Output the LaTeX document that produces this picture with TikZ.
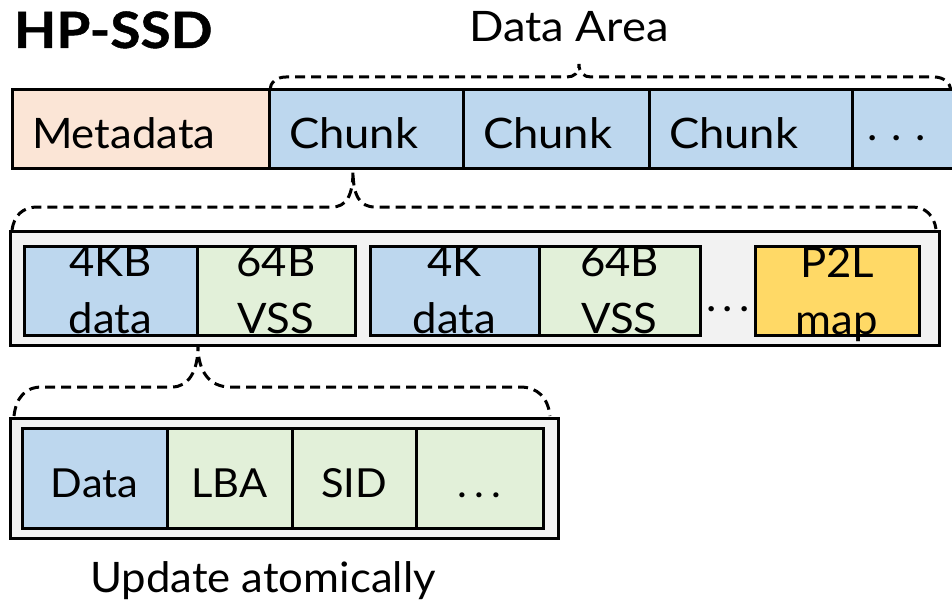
\documentclass[tikz,border=0pt]{standalone}
\usepackage{fontspec}
\setmainfont{Lato}[FakeStretch=1.04]
\definecolor{peach}{HTML}{FBE5D6}
\definecolor{lblue}{HTML}{BDD7EE}
\definecolor{lgreen}{HTML}{E2F0D9}
\definecolor{lyellow}{HTML}{FFD966}
\definecolor{lgray}{HTML}{F2F2F2}
\newcommand{\spdots}[1]{.\kern#1.\kern#1.}
\begin{document}
\begin{tikzpicture}[x=1pt,y=-1pt,
  cellbase/.style={draw=black, line width=3pt, inner sep=0pt, outer sep=0pt, anchor=north west},
  topcell/.style={cellbase, minimum height=78pt, align=left, inner xsep=20pt, text height=38pt, text depth=0pt, font=\fontsize{42}{50}\selectfont},
  panel/.style={cellbase, fill=lgray},
  midcell/.style={cellbase, minimum height=89pt, align=center, font=\fontsize{42}{57}\selectfont},
  lowcell/.style={cellbase, minimum height=100pt, text height=38pt, text depth=0pt, font=\fontsize{40}{48}\selectfont},
  brace/.style={draw=black, line width=3pt, dash pattern=on 10pt off 6pt},
  plain/.style={inner sep=0pt, outer sep=0pt}
]
\useasboundingbox (0,0) rectangle (952,607);
\clip (0,0) rectangle (952,607);
\fill[white] (0,0) rectangle (952,607);

% titles
\node[plain, anchor=base west, font=\bfseries\fontsize{50}{60}\selectfont\addfontfeature{FakeStretch=1.1,FakeBold=1}] (title) at (14,48) {HP-SSD};
\node[plain, anchor=base, font=\fontsize{42}{50}\selectfont\addfontfeature{FakeStretch=1.08}] (area) at (569,42) {Data Area};

% top row
\node[topcell, fill=peach, text width=217pt] (meta) at (12,90) {Metadata};
\node[topcell, fill=lblue, text width=154pt] (c1) at (269,90) {\addfontfeature{FakeStretch=1.08}Chunk};
\node[topcell, fill=lblue, text width=146pt] (c2) at (463,90) {\addfontfeature{FakeStretch=1.08}Chunk};
\node[topcell, fill=lblue, text width=163pt] (c3) at (649,90) {\addfontfeature{FakeStretch=1.08}Chunk};
\node[topcell, fill=lblue, text width=71pt, inner xsep=15pt, text height=22pt] (cdots) at (852,90) {\spdots{14pt}};

% middle panel
\node[panel, minimum width=929pt, minimum height=114pt] (chunkpanel) at (10,231) {};
\node[midcell, fill=lblue, minimum width=173pt] (d1) at (24,246) {4KB\\data};
\node[midcell, fill=lgreen, minimum width=158pt] (v1) at (197,246) {64B\\VSS};
\node[midcell, fill=lblue, minimum width=169pt] (d2) at (370,246) {4K\\data};
\node[midcell, fill=lgreen, minimum width=161pt] (v2) at (539,246) {64B\\VSS};
\node[plain, anchor=base, font=\fontsize{42}{50}\selectfont] (mdots) at (728,311) {\spdots{6pt}};
\node[midcell, fill=lyellow, minimum width=164pt] (p2l) at (755,246) {P2L\\ma\smash{p}};

% bottom panel
\node[panel, minimum width=548pt, minimum height=120pt] (vsspanel) at (10,418) {};
\node[lowcell, fill=lblue, minimum width=145pt] (bdata) at (22,428) {Data};
\node[lowcell, fill=lgreen, minimum width=125pt] (lba) at (167,428) {LBA};
\node[lowcell, fill=lgreen, minimum width=124pt] (sid) at (292,428) {SID};
\node[lowcell, fill=lgreen, minimum width=127pt] (bdots) at (416,428) {\spdots{7pt}};

\node[plain, anchor=base, font=\fontsize{42}{50}\selectfont] (upd) at (263,592) {Update atomically};

% braces
\draw[brace] (270,90) .. controls (270,83) and (276,77) .. (286,77) -- (567,77)
  .. controls (574,77) and (579,73) .. (579,64)
  .. controls (579,73) and (584,77) .. (591,77) -- (934,77)
  .. controls (944,77) and (950,83) .. (951,90);
\draw[brace] (12,230) .. controls (14,216) and (22,207) .. (38,207) -- (332,207)
  .. controls (346,207) and (353,196) .. (353,171)
  .. controls (353,196) and (360,207) .. (375,207) -- (912,207)
  .. controls (926,207) and (934,216) .. (936,229);
\draw[brace] (14,416) .. controls (16,398) and (25,387) .. (42,387) -- (172,387)
  .. controls (188,387) and (198,372) .. (198,346)
  .. controls (198,372) and (210,387) .. (230,387) -- (520,387)
  .. controls (538,387) and (548,398) .. (550,416);
\end{tikzpicture}
\end{document}
